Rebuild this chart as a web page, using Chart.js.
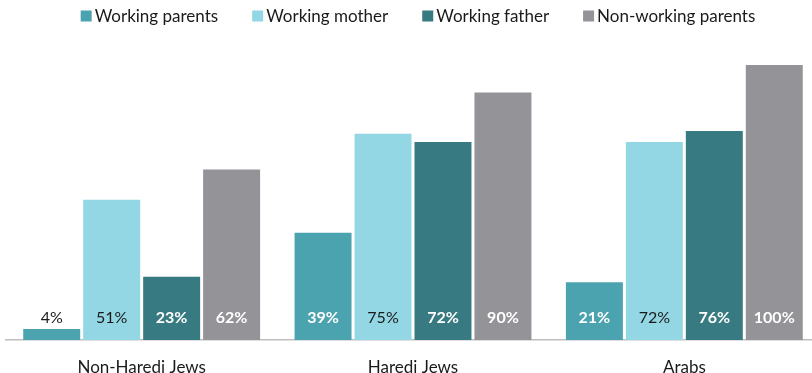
<!DOCTYPE html>
<html>
<head>
<meta charset="utf-8">
<script src="https://cdn.jsdelivr.net/npm/chart.js@4.4.1/dist/chart.umd.min.js"></script>
<style>
  html, body { margin: 0; padding: 0; background: #fff; overflow: hidden; }
  #wrap { width: 820px; height: 373px; }
</style>
</head>
<body>
<div id="wrap"><canvas id="chart" width="820" height="373"></canvas></div>
<script>
const categories = ['Non-Haredi Jews', 'Haredi Jews', 'Arabs'];
const seriesNames = ['Working parents', 'Working mother', 'Working father', 'Non-working parents'];
const workingParents = [4, 39, 21];
const workingMother = [51, 75, 72];
const workingFather = [23, 72, 76];
const nonWorking = [62, 90, 100];

const colors = ['#4aa3ae', '#93d6e4', '#377a81', '#939398'];
const labelColors = ['#ffffff', '#1a1a1a', '#ffffff', '#ffffff'];
const labelBold = [true, false, true, true];
const FONT = 'Lato, "Open Sans", sans-serif';

// legend row drawn by hand so the box/text spacing stays tight
const legendRow = {
  id: 'legendRow',
  afterDraw(chart) {
    const ctx = chart.ctx;
    ctx.save();
    ctx.font = '17px ' + FONT;
    ctx.textBaseline = 'middle';
    const box = 11, gapText = 3, gapItem = 34;
    const widths = seriesNames.map(n => ctx.measureText(n).width);
    const total = widths.reduce((a, w) => a + box + gapText + w, 0) + gapItem * (seriesNames.length - 1);
    let x = 418 - total / 2;
    const y = 16;
    seriesNames.forEach((name, i) => {
      ctx.fillStyle = colors[i];
      ctx.fillRect(x, y - box / 2, box, box);
      ctx.fillStyle = '#1a1a1a';
      ctx.fillText(name, x + box + gapText, y + 1);
      x += box + gapText + widths[i] + gapItem;
    });
    ctx.restore();
  }
};

// value labels sit in a row near the bottom of each bar
const valueLabels = {
  id: 'valueLabels',
  afterDatasetsDraw(chart) {
    const ctx = chart.ctx;
    const yRow = chart.chartArea.bottom - 22;
    ctx.save();
    ctx.textAlign = 'center';
    ctx.textBaseline = 'middle';
    chart.data.datasets.forEach((ds, i) => {
      chart.getDatasetMeta(i).data.forEach((bar, j) => {
        const v = ds.data[j];
        const inside = bar.y < yRow - 10;
        ctx.font = (labelBold[i] && inside ? 'bold ' : '') + '16px ' + FONT;
        ctx.fillStyle = inside ? labelColors[i] : '#1a1a1a';
        ctx.fillText(v + '%', bar.x, yRow);
      });
    });
    ctx.restore();
  }
};

new Chart(document.getElementById('chart'), {
  type: 'bar',
  data: {
    labels: categories,
    datasets: [workingParents, workingMother, workingFather, nonWorking].map((d, i) => ({
      label: seriesNames[i],
      data: d,
      backgroundColor: colors[i],
      categoryPercentage: 0.884,
      barPercentage: 0.95
    }))
  },
  options: {
    responsive: false,
    animation: false,
    layout: { padding: { left: 6, right: 0, top: 37.5, bottom: 0 } },
    scales: {
      x: {
        grid: { display: false },
        border: { display: true, color: '#bfbfbf', width: 1.5 },
        ticks: { color: '#1a1a1a', font: { family: FONT, size: 17 }, padding: 9 },
        afterFit(scale) { scale.height = 33; }
      },
      y: { display: false, min: 0, max: 110 }
    },
    plugins: {
      legend: { display: false },
      tooltip: { enabled: false }
    }
  },
  plugins: [legendRow, valueLabels]
});
</script>
</body>
</html>
